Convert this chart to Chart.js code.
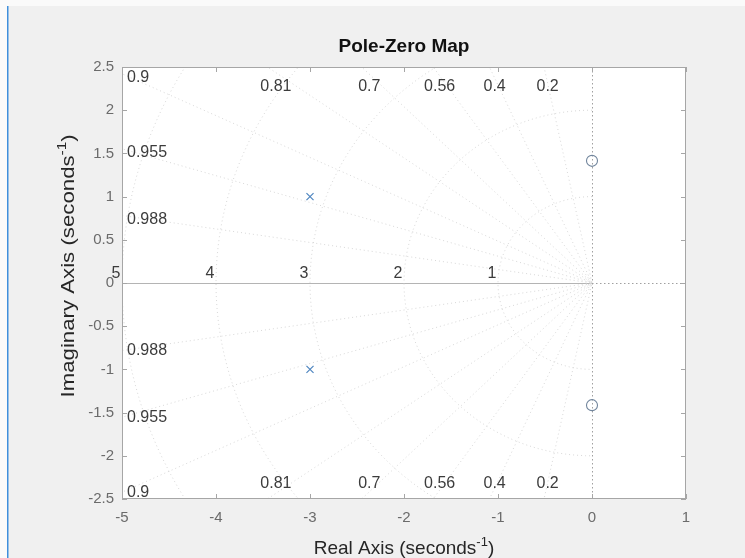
<!DOCTYPE html>
<html>
<head>
<meta charset="utf-8">
<title>Pole-Zero Map</title>
<script src="https://cdn.jsdelivr.net/npm/chart.js@4.4.1/dist/chart.umd.min.js"></script>
<style>
    html, body { margin: 0; padding: 0; background: #fff; }
    #wrap { position: relative; width: 745px; height: 558px; }
</style>
</head>
<body>
<div id="wrap"><canvas id="pzmap"></canvas></div>
<script>
// --- data ---
const poleReal = [-3, -3];
const poleImag = [1, -1];
const zeroReal = [0, 0];
const zeroImag = [1.414, -1.414];

// sgrid: damping ratios and natural frequencies
const zetaLevels = [0.2, 0.4, 0.56, 0.7, 0.81, 0.9, 0.955, 0.988];
const wnLevels = [1, 2, 3, 4, 5];

// axes
const xLimits = [-5, 1];
const yLimits = [-2.5, 2.5];
const xTickValues = [-5, -4, -3, -2, -1, 0, 1];
const yTickValues = [-2.5, -2, -1.5, -1, -0.5, 0, 0.5, 1, 1.5, 2, 2.5];

const FONT = '"Liberation Sans", Arial, Helvetica, sans-serif';
const GRID_COLOR = '#d9d9d9';
const MARK_BLUE = '#4f86c0';

// --- grid datasets built from zeta / wn ---
const RAY_LEN = 8;
const zetaSets = zetaLevels.map(z => {
    const s = Math.sqrt(1 - z * z);
    return {
        data: [{ x: -RAY_LEN * z, y: RAY_LEN * s }, { x: 0, y: 0 }, { x: -RAY_LEN * z, y: -RAY_LEN * s }],
        showLine: true, pointRadius: 0, borderColor: GRID_COLOR, borderWidth: 1,
        borderDash: [1, 3], order: 10
    };
});
const wnSets = wnLevels.map(wn => {
    const pts = [];
    for (let a = 90; a <= 270; a += 2) {
        const r = a * Math.PI / 180;
        pts.push({ x: wn * Math.cos(r), y: wn * Math.sin(r) });
    }
    return {
        data: pts, showLine: true, pointRadius: 0, borderColor: GRID_COLOR,
        borderWidth: 1, borderDash: [1, 3], order: 10
    };
});

const poleSet = {
    data: poleReal.map((x, i) => ({ x, y: poleImag[i] })),
    pointStyle: 'crossRot', pointRadius: 5, borderColor: MARK_BLUE, borderWidth: 1.2,
    backgroundColor: 'transparent', order: 0
};
const zeroSet = {
    data: zeroReal.map((x, i) => ({ x, y: zeroImag[i] })),
    pointStyle: 'circle', pointRadius: 5.5, borderColor: '#71859c', borderWidth: 1.1,
    backgroundColor: 'transparent', order: 0
};

// --- text with a superscript, optionally stretched along its length ---
function drawSupLabel(ctx, parts, cx, cy, size, angle, stretch) {
    ctx.save();
    ctx.translate(cx, cy);
    ctx.rotate(angle);
    ctx.scale(stretch, 1);
    const main = size + 'px ' + FONT;
    const small = Math.round(size * 0.68) + 'px ' + FONT;
    ctx.font = main;
    const w1 = ctx.measureText(parts[0]).width;
    const w3 = ctx.measureText(parts[2]).width;
    ctx.font = small;
    const w2 = ctx.measureText(parts[1]).width;
    let x = -(w1 + w2 + w3) / 2;
    const base = size * 0.36;
    ctx.textAlign = 'left';
    ctx.textBaseline = 'alphabetic';
    ctx.fillStyle = '#262626';
    ctx.font = main; ctx.fillText(parts[0], x, base); x += w1;
    ctx.font = small; ctx.fillText(parts[1], x, base - size * 0.42); x += w2;
    ctx.font = main; ctx.fillText(parts[2], x, base);
    ctx.restore();
}

const pzDecor = {
    id: 'pzDecor',
    beforeDraw(chart) {
        const { ctx, width, height, chartArea: a } = chart;
        ctx.save();
        ctx.fillStyle = '#fafafa';
        ctx.fillRect(0, 0, width, height);
        ctx.fillStyle = '#f0f0f0';
        ctx.fillRect(8, 6, width - 8, height - 6);
        ctx.fillStyle = '#3f8fdc';
        ctx.fillRect(7, 6, 1.5, height - 6);
        ctx.fillStyle = '#ffffff';
        ctx.fillRect(a.left, a.top, a.right - a.left, a.bottom - a.top);
        ctx.restore();
    },
    beforeDatasetsDraw(chart) {
        const { ctx, chartArea: a, scales: { x: xs, y: ys } } = chart;
        const x0 = xs.getPixelForValue(0), y0 = ys.getPixelForValue(0);
        ctx.save();
        ctx.lineWidth = 1;
        // negative real axis (zeta = 1)
        ctx.strokeStyle = '#b4b4b4';
        ctx.beginPath(); ctx.moveTo(a.left, y0 + 0.5); ctx.lineTo(x0, y0 + 0.5); ctx.stroke();
        // dotted axis lines through the origin
        ctx.strokeStyle = '#a0a0a0';
        ctx.setLineDash([1.5, 2.5]);
        ctx.beginPath(); ctx.moveTo(x0, y0 + 0.5); ctx.lineTo(a.right, y0 + 0.5); ctx.stroke();
        ctx.beginPath(); ctx.moveTo(x0 + 0.5, a.top); ctx.lineTo(x0 + 0.5, a.bottom); ctx.stroke();
        ctx.restore();
    },
    afterDraw(chart) {
        const { ctx, chartArea: a, scales: { x: xs, y: ys } } = chart;
        ctx.save();
        // box
        ctx.strokeStyle = '#a6a6a6';
        ctx.lineWidth = 1;
        ctx.strokeRect(a.left + 0.5, a.top + 0.5, a.right - a.left - 1, a.bottom - a.top - 1);
        // inward ticks on all four sides
        ctx.beginPath();
        xTickValues.forEach(v => {
            const p = Math.round(xs.getPixelForValue(v)) + 0.5;
            ctx.moveTo(p, a.bottom); ctx.lineTo(p, a.bottom - 5);
            ctx.moveTo(p, a.top); ctx.lineTo(p, a.top + 5);
        });
        yTickValues.forEach(v => {
            const p = Math.round(ys.getPixelForValue(v)) + 0.5;
            ctx.moveTo(a.left, p); ctx.lineTo(a.left + 5, p);
            ctx.moveTo(a.right, p); ctx.lineTo(a.right - 5, p);
        });
        ctx.stroke();

        // damping ratio labels
        ctx.font = '16px ' + FONT;
        ctx.fillStyle = '#3c3c3c';
        ctx.textBaseline = 'middle';
        zetaLevels.forEach(z => {
            const s = Math.sqrt(1 - z * z);
            const tTop = yLimits[1] / s, tLeft = -xLimits[0] / z;
            const label = String(z);
            if (tTop < tLeft) {
                const px = xs.getPixelForValue(-z * tTop) + 2 + 8 * z;
                ctx.textAlign = 'center';
                ctx.fillText(label, px, a.top + 20);
                ctx.fillText(label, px, a.bottom - 15);
            } else {
                const yv = s * tLeft;
                ctx.textAlign = 'left';
                ctx.fillText(label, a.left + 5, ys.getPixelForValue(yv) + 4);
                ctx.fillText(label, a.left + 5, ys.getPixelForValue(-yv));
            }
        });
        // natural frequency labels
        ctx.textAlign = 'center';
        wnLevels.forEach(wn => {
            ctx.fillText(String(wn), xs.getPixelForValue(-wn) - 6, ys.getPixelForValue(0) - 9);
        });

        // title
        ctx.font = 'bold 19px ' + FONT;
        ctx.fillStyle = '#111';
        ctx.textAlign = 'center';
        ctx.fillText('Pole-Zero Map', (a.left + a.right) / 2, 47);
        ctx.restore();

        // axis labels
        drawSupLabel(ctx, ['Real Axis (seconds', '-1', ')'], (a.left + a.right) / 2, 547, 19, 0, 1);
        drawSupLabel(ctx, ['Imaginary Axis (seconds', '-1', ')'], 67, 266, 19, -Math.PI / 2, 1.17);
    }
};

new Chart(document.getElementById('pzmap'), {
    type: 'scatter',
    data: { datasets: [poleSet, zeroSet, ...zetaSets, ...wnSets] },
    options: {
        responsive: true,
        maintainAspectRatio: false,
        animation: false,
        events: [],
        layout: { padding: { top: 67, right: 59, left: 0, bottom: 0 } },
        plugins: { legend: { display: false }, tooltip: { enabled: false }, title: { display: false } },
        scales: {
            x: {
                type: 'linear', min: xLimits[0], max: xLimits[1],
                afterBuildTicks: s => { s.ticks = xTickValues.map(v => ({ value: v })); },
                afterFit: s => { s.height = 59; },
                grid: { display: false, drawTicks: false },
                border: { display: false },
                ticks: { padding: 10, color: '#6b6b6b', font: { family: FONT, size: 15 }, maxRotation: 0,
                         callback: v => String(v) }
            },
            y: {
                type: 'linear', min: yLimits[0], max: yLimits[1],
                afterBuildTicks: s => { s.ticks = yTickValues.map(v => ({ value: v })); },
                afterFit: s => { s.width = 122; },
                grid: { display: false, drawTicks: false },
                border: { display: false },
                ticks: { padding: 8, color: '#6b6b6b', font: { family: FONT, size: 15 },
                         callback: v => String(v) }
            }
        }
    },
    plugins: [pzDecor]
});
</script>
</body>
</html>
